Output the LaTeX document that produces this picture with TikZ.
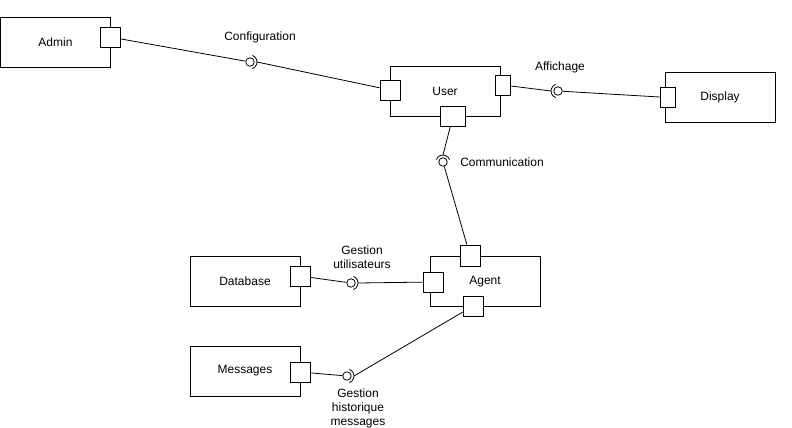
\documentclass[tikz,border=0pt]{standalone}
\usepackage{fontspec}
\setmainfont{Liberation Sans}

\begin{document}
\begin{tikzpicture}[x=1pt,y=-1pt,line width=0.8pt,
  comp/.style={draw,fill=white,minimum width=110pt,minimum height=50pt,inner sep=0pt,font=\fontsize{12}{14}\selectfont},
  port/.style={draw,fill=white,minimum width=20pt,minimum height=20pt,inner sep=0pt},
  ball/.style={draw,circle,minimum size=8.5pt,inner sep=0pt},
  lbl/.style={align=center,font=\fontsize{12}{14}\selectfont}]

\useasboundingbox (0,0) rectangle (792,428);

% components
\node [comp] (admin) at (55.5,42) {Admin};
\node [comp] (user) at (445,91) {User};
\node [comp] (display) at (720,97) {Display};
\node [comp] (agent) at (485,281.5) {Agent};
\node [comp] (database) at (245,281) {Database};
\node [comp] (messages) at (245,371) {Messages};

% ports
\node [port] (padmin) at (110,37) {};
\node [port] (puserl) at (390,90) {};
\node [port,minimum width=15pt] (puserr) at (503,85) {};
\node [port,minimum width=25pt] (puserb) at (453,116) {};
\node [port,minimum width=15pt] (pdisplay) at (668,97.5) {};
\node [port,minimum height=21pt] (pagentt) at (470,255.5) {};
\node [port] (pagentl) at (433,282) {};
\node [port] (pagentb) at (473,306) {};
\node [port] (pdatabase) at (300,276) {};
\node [port] (pmessages) at (300,372) {};

% interfaces
\node [ball] (bconf) at (250,62) {};
\node [ball] (baff) at (558,91) {};
\node [ball] (bcomm) at (443,162) {};
\node [ball] (bgestu) at (351,283) {};
\node [ball] (bgesth) at (347,376) {};

\draw (bconf.center) ++(-70:7) arc[start angle=-70,end angle=70,radius=7];
\draw (baff.center) ++(110:7) arc[start angle=110,end angle=250,radius=7];
\draw (bcomm.center) ++(-160:7) arc[start angle=-160,end angle=-20,radius=7];
\draw (bgestu.center) ++(-70:7) arc[start angle=-70,end angle=70,radius=7];
\draw (bgesth.center) ++(-70:7) arc[start angle=-70,end angle=70,radius=7];

\coordinate (sconf) at (257,62);
\coordinate (saff) at (551,91);
\coordinate (scomm) at (443,155);
\coordinate (sgestu) at (358,283);
\coordinate (sgesth) at (354,376);

% connectors
\draw (padmin) -- (bconf);
\draw (sconf) -- (puserl);
\draw (puserr) -- (saff);
\draw (baff) -- (pdisplay);
\draw (puserb) -- (scomm);
\draw (bcomm) -- (pagentt);
\draw (pdatabase) -- (bgestu);
\draw (sgestu) -- (pagentl);
\draw (pmessages) -- (bgesth);
\draw (sgesth) -- (pagentb);

% labels
\node [lbl] (lconf) at (260,37) {Configuration};
\node [lbl] (laff) at (560,67) {Affichage};
\node [lbl] (lcomm) at (502,162) {Communication};
\node [lbl] (lgestu) at (362,257) {Gestion\\utilisateurs};
\node [lbl] (lgesth) at (358,408.5) {Gestion\\historique\\messages};

\end{tikzpicture}
\end{document}
